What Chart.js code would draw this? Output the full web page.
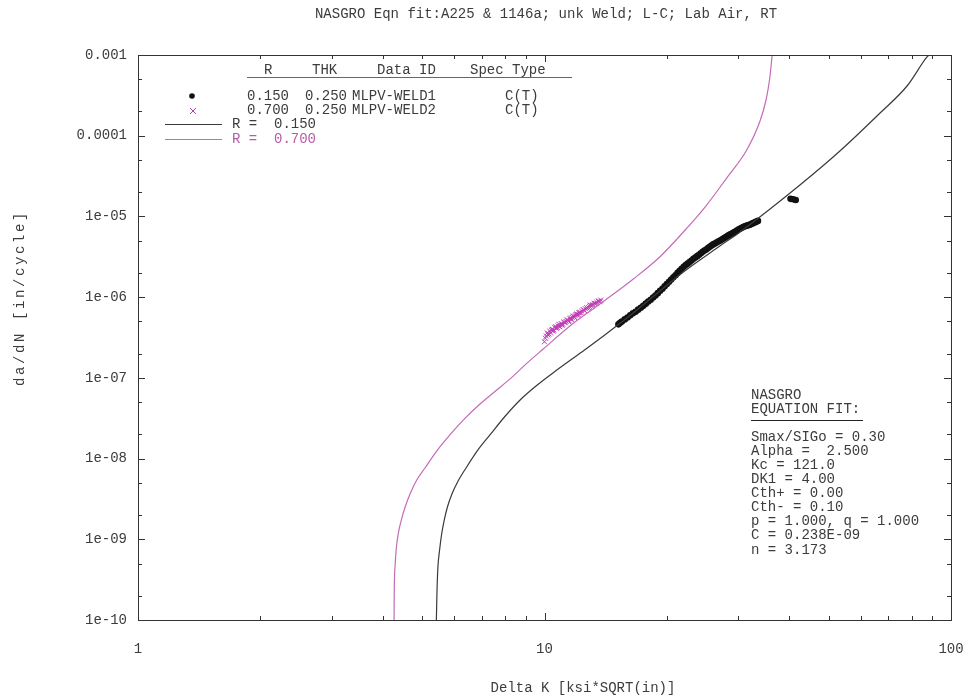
<!DOCTYPE html>
<html>
<head>
<meta charset="utf-8">
<script src="https://cdn.jsdelivr.net/npm/chart.js@4"></script>
<style>
  html, body { margin: 0; padding: 0; background: #fff; }
  #wrap { width: 972px; height: 700px; }
</style>
</head>
<body>
<div id="wrap"><canvas id="chart"></canvas></div>
<script>
// ===== AXIS LABELS =====
const xTickLabels = ['1', '10', '100'];
const yTickLabels = ['1e-10', '1e-09', '1e-08', '1e-07', '1e-06', '1e-05', '0.0001', '0.001'];
const xMinorMults = [2, 3, 4, 5, 6, 7, 8, 9];
const yMinorMults = [2, 5];

// ===== NASGRO FIT CURVES =====
const fitR015X = [5.42, 5.44, 5.47, 5.52, 5.58, 5.66, 5.77, 5.92, 6.13, 6.44, 6.86, 7.34, 7.99, 8.71, 9.53, 10.49, 11.55, 12.72,
  15.34, 18.2, 21.96, 27.0, 30.27, 42.5, 53.3, 66.9, 77.96, 87.3, 88.3];
const fitR015Y = [1e-10, 2.35e-10, 4.67e-10, 7.36e-10, 1.13e-9, 1.68e-9, 2.51e-9, 3.64e-9, 5.27e-9, 7.92e-9, 1.28e-8, 1.96e-8, 3.32e-8, 5.32e-8, 7.92e-8, 1.15e-7, 1.64e-7, 2.32e-7,
  4.74e-7, 9.48e-7, 2.05e-6, 4.3e-6, 6.41e-6, 2.45e-5, 6.46e-5, 1.91e-4, 4.13e-4, 9.45e-4, 1e-3];

const fitR070X = [4.265, 4.27, 4.29, 4.32, 4.37, 4.45, 4.55, 4.68, 4.85, 5.08, 5.43, 5.85, 6.31, 6.94, 7.63, 8.32, 9.04, 9.93,
  11.55, 13.69, 16.54, 19.24, 21.96, 25.06, 28.06, 31.44, 33.9, 35.07, 35.77, 36.17, 36.3];
const fitR070Y = [1e-10, 2.35e-10, 4.67e-10, 7.8e-10, 1.19e-9, 1.78e-9, 2.58e-9, 3.74e-9, 5.42e-9, 7.64e-9, 1.24e-8, 1.96e-8, 3.0e-8, 4.74e-8, 7.07e-8, 1.02e-7, 1.51e-7, 2.28e-7,
  4.39e-7, 8.22e-7, 1.68e-6, 3.17e-6, 6.41e-6, 1.385e-5, 2.99e-5, 6.65e-5, 1.52e-4, 2.77e-4, 4.9e-4, 8.19e-4, 1e-3];

// ===== TEST DATA =====
// MLPV-WELD1, R = 0.150
const weld1X = [15.2, 15.35, 15.5, 15.75, 16.0, 16.25, 16.5, 16.75, 17.0, 17.25, 17.5, 17.75, 18.0, 18.25, 18.5, 18.75, 19.0, 19.25, 19.5, 19.75,
  20.0, 20.25, 20.5, 20.75, 21.0, 21.25, 21.5, 21.75, 22.0, 22.25, 22.5, 22.75, 23.0, 23.25, 23.5, 23.75, 24.0, 24.25, 24.5, 24.75,
  25.0, 25.25, 25.5, 25.75, 26.0, 26.25, 26.5, 26.75, 27.0, 27.25, 27.5, 27.75, 28.0, 28.25, 28.5, 28.75, 29.0, 29.25, 29.5, 29.75,
  30.0, 30.25, 30.5, 30.75, 31.0, 31.25, 31.5, 31.75, 32.0, 32.25, 32.5, 32.75, 33.0, 33.25, 33.5, 40.3, 40.9, 41.5];
const weld1Y = [4.6e-7, 4.8e-7, 5.0e-7, 5.3e-7, 5.6e-7, 5.95e-7, 6.3e-7, 6.6e-7, 7.0e-7, 7.4e-7, 7.8e-7, 8.3e-7, 8.8e-7, 9.3e-7, 9.9e-7, 1.05e-6, 1.12e-6, 1.2e-6, 1.27e-6, 1.36e-6,
  1.45e-6, 1.55e-6, 1.65e-6, 1.76e-6, 1.87e-6, 2.0e-6, 2.12e-6, 2.25e-6, 2.38e-6, 2.5e-6, 2.6e-6, 2.72e-6, 2.85e-6, 2.98e-6, 3.1e-6, 3.22e-6, 3.35e-6, 3.5e-6, 3.65e-6, 3.78e-6,
  3.9e-6, 4.05e-6, 4.2e-6, 4.35e-6, 4.5e-6, 4.62e-6, 4.75e-6, 4.88e-6, 5.0e-6, 5.15e-6, 5.3e-6, 5.45e-6, 5.6e-6, 5.75e-6, 5.9e-6, 6.05e-6, 6.2e-6, 6.35e-6, 6.5e-6, 6.7e-6,
  6.9e-6, 7.05e-6, 7.2e-6, 7.35e-6, 7.5e-6, 7.6e-6, 7.7e-6, 7.8e-6, 7.9e-6, 8.05e-6, 8.2e-6, 8.35e-6, 8.5e-6, 8.65e-6, 8.8e-6, 1.65e-5, 1.63e-5, 1.6e-5];

// MLPV-WELD2, R = 0.700
const weld2X = [10.0, 10.05, 10.1, 10.15, 10.2, 10.25, 10.3, 10.35, 10.4, 10.45, 10.5, 10.55, 10.6, 10.65, 10.7, 10.75, 10.8, 10.85, 10.9, 10.95,
  11.0, 11.05, 11.1, 11.15, 11.2, 11.25, 11.3, 11.35, 11.4, 11.45, 11.5, 11.55, 11.6, 11.65, 11.7, 11.75, 11.8, 11.85, 11.9, 11.95,
  12.0, 12.05, 12.1, 12.15, 12.2, 12.3, 12.35, 12.45, 12.5, 12.55, 12.6, 12.7, 12.75, 12.85, 12.9, 12.95, 13.0, 13.1, 13.15, 13.25,
  13.3, 13.4, 13.45, 13.55, 13.6, 13.7, 13.75];
const weld2Y = [2.8e-7, 3.1e-7, 3.3e-7, 3.6e-7, 3.4e-7, 3.5e-7, 3.8e-7, 3.6e-7, 3.9e-7, 4.0e-7, 3.8e-7, 3.9e-7, 4.2e-7, 4.3e-7, 4.1e-7, 4.2e-7, 4.4e-7, 4.6e-7, 4.3e-7, 4.5e-7,
  4.7e-7, 4.5e-7, 4.6e-7, 4.9e-7, 4.9e-7, 4.8e-7, 5.0e-7, 5.2e-7, 5.2e-7, 5.0e-7, 5.1e-7, 5.4e-7, 5.5e-7, 5.3e-7, 5.6e-7, 5.8e-7, 5.8e-7, 5.6e-7, 5.9e-7, 6.1e-7,
  6.2e-7, 6.0e-7, 6.1e-7, 6.4e-7, 6.5e-7, 6.4e-7, 6.7e-7, 7.0e-7, 6.9e-7, 6.8e-7, 7.2e-7, 7.4e-7, 7.3e-7, 7.4e-7, 7.7e-7, 8.0e-7, 7.9e-7, 7.9e-7, 8.1e-7, 8.4e-7,
  8.4e-7, 8.3e-7, 8.6e-7, 8.9e-7, 8.9e-7, 8.8e-7, 9.2e-7];

// ===== TEXTS =====
const chartTitle = 'NASGRO Eqn fit:A225 & 1146a; unk Weld; L-C; Lab Air, RT';
const xTitle = 'Delta K [ksi*SQRT(in)]';
const yTitle = 'da/dN [in/cycle]';
const legendHeader = ['R', 'THK', 'Data ID', 'Spec Type'];
const legendData = [
  ['0.150', '0.250', 'MLPV-WELD1', 'C(T)'],
  ['0.700', '0.250', 'MLPV-WELD2', 'C(T)']
];
const legendFits = ['R =  0.150', 'R =  0.700'];
const fitHeader = ['NASGRO', 'EQUATION FIT:'];
const fitParams = ['Smax/SIGo = 0.30', 'Alpha =  2.500', 'Kc = 121.0', 'DK1 = 4.00', 'Cth+ = 0.00', 'Cth- = 0.10', 'p = 1.000, q = 1.000', 'C = 0.238E-09', 'n = 3.173'];

// ===== COLORS =====
const TXT = '#3c3c3c';
const BLACK_LINE = '#3a3a3a';
const MAG_LINE = '#c46cb8';
const MAG_PTS = '#c23cb6';
const MAG_TXT = '#b85aa8';
const RED = '#e03434';
const FONT = '14px "Liberation Mono", monospace';

const toPts = (xs, ys) => xs.map((x, i) => ({ x: x, y: ys[i] }));

function decadeLabel(v, labels, offset) {
  const l = Math.log10(v);
  const e = Math.round(l);
  if (Math.abs(l - e) > 1e-6) return '';
  return labels[e + offset] || '';
}

// ===== DECORATIONS (frame, ticks, texts) =====
const decor = {
  id: 'decor',
  afterDraw(chart) {
    const { ctx, chartArea: a, scales } = chart;
    const xs = scales.x, ys = scales.y;
    ctx.save();

    // frame
    ctx.strokeStyle = '#333';
    ctx.lineWidth = 1;
    ctx.strokeRect(Math.round(a.left) + 0.5, Math.round(a.top) + 0.5, Math.round(a.right - a.left), Math.round(a.bottom - a.top));

    // inward ticks
    ctx.beginPath();
    for (let d = 1; d <= 100; d *= 10) {
      const px = Math.round(xs.getPixelForValue(d)) + 0.5;
      ctx.moveTo(px, a.bottom); ctx.lineTo(px, a.bottom - 7);
      ctx.moveTo(px, a.top); ctx.lineTo(px, a.top + 7);
      if (d < 100) {
        xMinorMults.forEach(m => {
          const p = Math.round(xs.getPixelForValue(d * m)) + 0.5;
          ctx.moveTo(p, a.bottom); ctx.lineTo(p, a.bottom - 4);
          ctx.moveTo(p, a.top); ctx.lineTo(p, a.top + 4);
        });
      }
    }
    for (let e = -10; e <= -3; e++) {
      const d = Math.pow(10, e);
      const py = Math.round(ys.getPixelForValue(d)) + 0.5;
      ctx.moveTo(a.left, py); ctx.lineTo(a.left + 7, py);
      ctx.moveTo(a.right, py); ctx.lineTo(a.right - 7, py);
      if (e < -3) {
        yMinorMults.forEach(m => {
          const p = Math.round(ys.getPixelForValue(d * m)) + 0.5;
          ctx.moveTo(a.left, p); ctx.lineTo(a.left + 4, p);
          ctx.moveTo(a.right, p); ctx.lineTo(a.right - 4, p);
        });
      }
    }
    ctx.stroke();

    ctx.font = FONT;
    ctx.fillStyle = TXT;
    ctx.textBaseline = 'middle';
    ctx.textAlign = 'center';

    // title + axis titles
    ctx.fillText(chartTitle, 546, 14);
    ctx.fillText(xTitle, 583, 688);
    ctx.save();
    ctx.translate(20, 298);
    ctx.rotate(-Math.PI / 2);
    ctx.letterSpacing = '2.6px';
    ctx.fillText(yTitle, 0, 0);
    ctx.restore();

    // legend block
    ctx.textAlign = 'left';
    const hx = [264, 312, 377, 470];
    legendHeader.forEach((t, i) => ctx.fillText(t, hx[i], 70));
    ctx.strokeStyle = RED;
    ctx.beginPath(); ctx.moveTo(247, 77.5); ctx.lineTo(572, 77.5); ctx.stroke();

    const cx = [247, 305, 352, 505];
    const rowY = [96, 110];
    legendData.forEach((row, r) => row.forEach((t, i) => ctx.fillText(t, cx[i], rowY[r])));

    ctx.fillStyle = '#111';
    ctx.beginPath(); ctx.arc(192, 96, 2.8, 0, Math.PI * 2); ctx.fill();
    ctx.strokeStyle = MAG_PTS;
    ctx.beginPath();
    ctx.moveTo(190, 108); ctx.lineTo(196, 114);
    ctx.moveTo(196, 108); ctx.lineTo(190, 114);
    ctx.stroke();

    ctx.strokeStyle = BLACK_LINE;
    ctx.beginPath(); ctx.moveTo(165, 124.5); ctx.lineTo(222, 124.5); ctx.stroke();
    ctx.strokeStyle = MAG_LINE;
    ctx.beginPath(); ctx.moveTo(165, 139.5); ctx.lineTo(222, 139.5); ctx.stroke();
    ctx.fillStyle = TXT;
    ctx.fillText(legendFits[0], 232, 124);
    ctx.fillStyle = MAG_TXT;
    ctx.fillText(legendFits[1], 232, 139);

    // NASGRO fit box
    ctx.fillStyle = TXT;
    ctx.fillText(fitHeader[0], 751, 395);
    ctx.fillText(fitHeader[1], 751, 409);
    ctx.strokeStyle = '#222';
    ctx.beginPath(); ctx.moveTo(751, 420.5); ctx.lineTo(863, 420.5); ctx.stroke();
    fitParams.forEach((t, i) => ctx.fillText(t, 751, 437 + i * 14.1));

    ctx.restore();
  }
};

// ===== INIT CHART =====
Chart.defaults.font.family = '"Liberation Mono", monospace';
Chart.defaults.font.size = 14;
Chart.defaults.color = TXT;

new Chart(document.getElementById('chart'), {
  type: 'scatter',
  data: {
    datasets: [
      {
        label: 'R = 0.150 fit',
        data: toPts(fitR015X, fitR015Y),
        showLine: true,
        borderColor: BLACK_LINE,
        borderWidth: 1.2,
        pointRadius: 0,
        cubicInterpolationMode: 'monotone'
      },
      {
        label: 'R = 0.700 fit',
        data: toPts(fitR070X, fitR070Y),
        showLine: true,
        borderColor: MAG_LINE,
        borderWidth: 1.2,
        pointRadius: 0,
        cubicInterpolationMode: 'monotone'
      },
      {
        label: 'MLPV-WELD1',
        data: toPts(weld1X, weld1Y),
        pointStyle: 'circle',
        pointRadius: 3.3,
        backgroundColor: '#111',
        borderColor: '#111',
        borderWidth: 0
      },
      {
        label: 'MLPV-WELD2',
        data: toPts(weld2X, weld2Y),
        pointStyle: 'crossRot',
        pointRadius: 3.5,
        borderColor: MAG_PTS,
        borderWidth: 1
      }
    ]
  },
  options: {
    responsive: true,
    maintainAspectRatio: false,
    animation: false,
    layout: { padding: { left: 0, right: 21, top: 55, bottom: 0 } },
    plugins: {
      legend: { display: false },
      tooltip: { enabled: false }
    },
    scales: {
      x: {
        type: 'logarithmic',
        min: 1,
        max: 100,
        grid: { display: false, drawTicks: false },
        border: { display: false },
        afterFit: s => { s.height = 80; s.paddingLeft = 0; s.paddingRight = 0; },
        ticks: {
          autoSkip: false,
          maxRotation: 0,
          padding: 21,
          color: TXT,
          callback: v => decadeLabel(v, xTickLabels, 0)
        }
      },
      y: {
        type: 'logarithmic',
        min: 1e-10,
        max: 1e-3,
        grid: { display: false, drawTicks: false },
        border: { display: false },
        afterFit: s => { s.width = 138; s.paddingTop = 0; s.paddingBottom = 0; },
        ticks: {
          autoSkip: false,
          padding: 11,
          color: TXT,
          callback: v => decadeLabel(v, yTickLabels, 10)
        }
      }
    }
  },
  plugins: [decor]
});
</script>
</body>
</html>
